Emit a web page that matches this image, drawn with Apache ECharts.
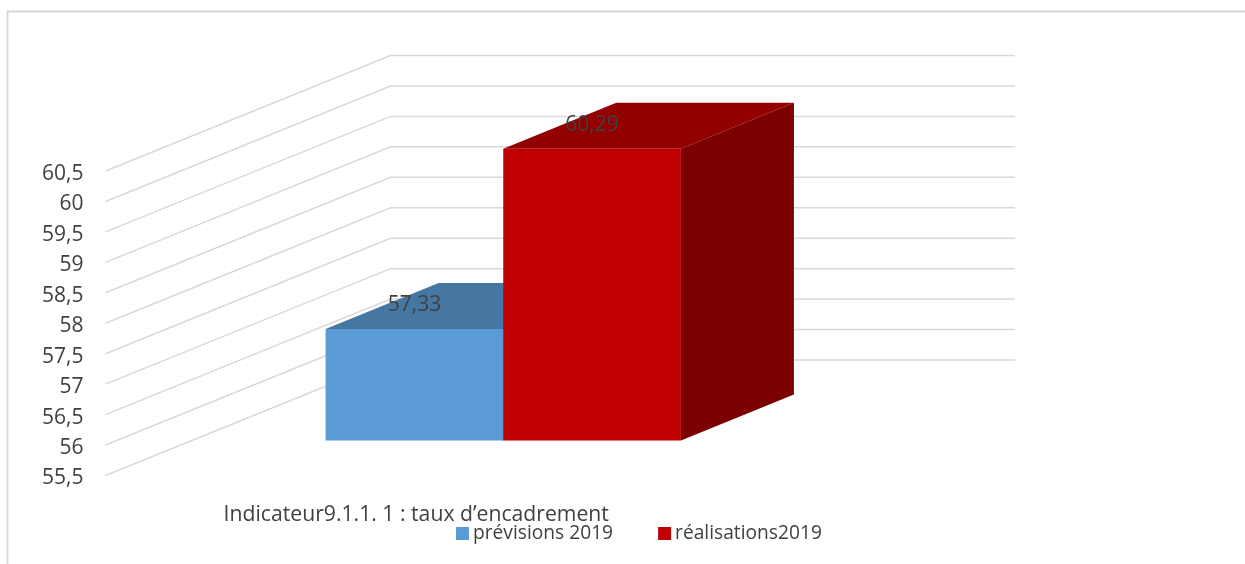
<!DOCTYPE html>
<html><head><meta charset="utf-8">
<style>html,body{margin:0;padding:0;background:#fff}#c{width:1245px;height:564px}</style>
<script src="https://cdn.jsdelivr.net/npm/echarts@6/dist/echarts.min.js"></script>
</head><body><div id="c"></div>
<script>
var categories = ['Indicateur9.1.1. 1 : taux d\u2019encadrement'];
var seriesNames = ['pr\u00e9visions 2019', 'r\u00e9alisations2019'];
var previsions = [57.33];
var realisations = [60.29];
var yTicks = [55.5, 56, 56.5, 57, 57.5, 58, 58.5, 59, 59.5, 60, 60.5];

var FONT = '"Open Sans", sans-serif';
var WALL_DX = 285, WALL_DY = 115.5;   // depth of the floor
var BAR_FRONT_DX = 85.5, BAR_FRONT_DY = 35; // bar front plane inside the depth
var BAR_DX = 113, BAR_DY = 46;        // depth of a bar
var BAND_RATIO = 0.2845;

function comma(v){ return String(v).replace('.', ','); }

function wallItem(params, api){
  var p = api.coord([0, api.value(0)]);
  var band = api.size([1, 0])[0];
  var x0 = p[0] - band / 2;
  return {
    type: 'polyline',
    shape: { points: [[x0, p[1]], [x0 + WALL_DX, p[1] - WALL_DY], [x0 + WALL_DX + band, p[1] - WALL_DY]] },
    style: { fill: 'none', stroke: '#d9d9d9', lineWidth: 1.5 },
    silent: true
  };
}

function barRenderer(slot, front, top, side){
  return function(params, api){
    var v = api.value(1);
    var c = api.coord([api.value(0), v]);
    var base = api.coord([api.value(0), 55.5]);
    var band = api.size([1, 0])[0];
    var w = band * BAND_RATIO;
    var x0 = c[0] - w + slot * w + BAR_FRONT_DX;
    var x1 = x0 + w;
    var yT = c[1] - BAR_FRONT_DY;
    var yB = base[1] - BAR_FRONT_DY;
    return {
      type: 'group',
      children: [
        { type: 'polygon', shape: { points: [[x0, yT], [x0 + BAR_DX, yT - BAR_DY], [x1 + BAR_DX, yT - BAR_DY], [x1, yT]] }, style: { fill: top } },
        { type: 'polygon', shape: { points: [[x1, yT], [x1 + BAR_DX, yT - BAR_DY], [x1 + BAR_DX, yB - BAR_DY], [x1, yB]] }, style: { fill: side } },
        { type: 'rect', shape: { x: x0, y: yT, width: w, height: yB - yT }, style: { fill: front } },
        { type: 'text', style: { x: (x0 + x1) / 2, y: yT - 24, text: comma(v), fill: '#404040', font: '21px ' + FONT, align: 'center', verticalAlign: 'middle' } }
      ]
    };
  };
}

var chart = echarts.init(document.getElementById('c'), null, { renderer: 'canvas' });
chart.setOption({
  animation: false,
  backgroundColor: '#fff',
  textStyle: { fontFamily: FONT },
  graphic: [
    { type: 'polyline', silent: true, shape: { points: [[7.5, 564], [7.5, 11.5], [1245, 11.5]] }, style: { fill: 'none', stroke: '#d9d9d9', lineWidth: 2 } }
  ],
  grid: { left: 105.5, top: 171, width: 624.5, height: 304.5 },
  xAxis: {
    type: 'category', data: categories,
    axisLine: { show: false }, axisTick: { show: false }, splitLine: { show: false },
    axisLabel: { color: '#404040', fontSize: 21.2, fontFamily: FONT, margin: 29, padding: [0, 3, 0, 0] }
  },
  yAxis: {
    type: 'value', min: 55.5, max: 60.5, interval: 0.5,
    axisLine: { show: false }, axisTick: { show: false }, splitLine: { show: false },
    axisLabel: { color: '#404040', fontSize: 21, fontFamily: FONT, margin: 22, verticalAlign: 'top', lineHeight: 6, showMinLabel: true, showMaxLabel: true, hideOverlap: false, formatter: comma }
  },
  legend: {
    data: seriesNames, left: 451, top: 519, itemWidth: 13, itemHeight: 13, itemGap: 45,
    icon: 'rect',
    textStyle: { color: '#404040', fontSize: 19.2, fontFamily: FONT, padding: [0, 0, 0, -1] }
  },
  series: [
    { type: 'custom', name: 'grille', coordinateSystem: 'cartesian2d', renderItem: wallItem, clip: false, silent: true, data: yTicks.map(function(t){ return [t]; }), encode: { y: 0 }, z: 1 },
    { type: 'custom', name: seriesNames[0], coordinateSystem: 'cartesian2d', renderItem: barRenderer(0, '#5b9bd5', '#4677a3', '#3f6c95'), clip: false, itemStyle: { color: '#5b9bd5' }, data: previsions.map(function(v, i){ return [i, v]; }), encode: { x: 0, y: 1 }, z: 2 },
    { type: 'custom', name: seriesNames[1], coordinateSystem: 'cartesian2d', renderItem: barRenderer(1, '#c00000', '#920000', '#7b0000'), clip: false, itemStyle: { color: '#c00000' }, data: realisations.map(function(v, i){ return [i, v]; }), encode: { x: 0, y: 1 }, z: 3 }
  ]
});
</script></body></html>
